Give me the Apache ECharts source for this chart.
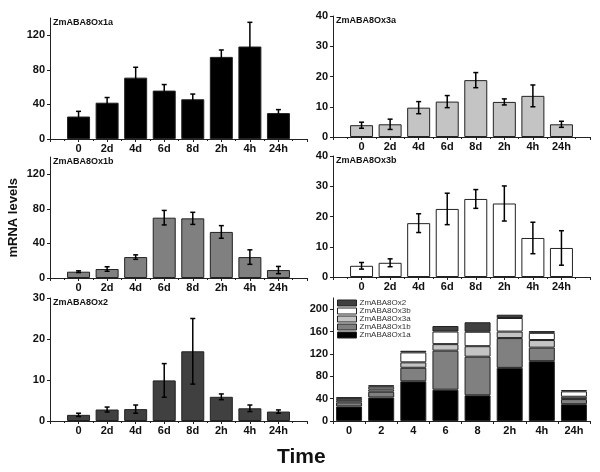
<!DOCTYPE html>
<html>
<head>
<meta charset="utf-8">
<script src="https://cdn.jsdelivr.net/npm/echarts@6/dist/echarts.min.js"></script>
<style>
html,body{margin:0;padding:0;background:#fff;}
#chart{width:600px;height:472px;}
</style>
</head>
<body>
<div id="chart"></div>
<script>
// ---- data ----
const timeLabels = ['0', '2d', '4d', '6d', '8d', '2h', '4h', '24h'];
const stackLabels = ['0', '2', '4', '6', '8', '2h', '4h', '24h'];
const seriesNames = ['ZmABA8Ox1a', 'ZmABA8Ox3a', 'ZmABA8Ox1b', 'ZmABA8Ox3b', 'ZmABA8Ox2'];

const ox1aMean = [26, 42, 71, 56, 46, 95, 107, 30];
const ox1aErr  = [6, 6, 12, 7, 6, 8, 28, 4];
const ox3aMean = [3.9, 4.2, 9.7, 11.7, 18.8, 11.6, 13.6, 4.2];
const ox3aErr  = [1.0, 1.7, 2.0, 2.0, 2.5, 1.0, 3.6, 1.0];
const ox1bMean = [7.3, 10.4, 24.2, 69.8, 69, 53.3, 24.2, 9.2];
const ox1bErr  = [1.0, 2.6, 2.6, 8.4, 7.0, 7.3, 8.4, 4.2];
const ox3bMean = [3.7, 4.7, 17.8, 22.5, 25.8, 24.3, 12.9, 9.6];
const ox3bErr  = [1.1, 1.3, 3.1, 5.2, 3.1, 5.8, 5.2, 5.7];
const ox2Mean  = [1.5, 2.8, 2.9, 9.9, 17.0, 5.9, 3.1, 2.3];
const ox2Err   = [0.4, 0.6, 1.0, 4.1, 8.0, 0.7, 0.8, 0.4];

const yTicks1a = [0, 40, 80, 120];
const yTicks3a = [0, 10, 20, 30, 40];
const yTicks1b = [0, 40, 80, 120];
const yTicks3b = [0, 10, 20, 30, 40];
const yTicks2  = [0, 10, 20, 30];
const yTicksStack = [0, 40, 80, 120, 160, 200];

// ---- layout / style ----
const FONT = "'Liberation Sans', Arial, sans-serif";
const colors = {
  ZmABA8Ox1a: '#000000',
  ZmABA8Ox1b: '#808080',
  ZmABA8Ox3a: '#c4c4c4',
  ZmABA8Ox3b: '#ffffff',
  ZmABA8Ox2: '#404040'
};

const panels = [
  { name: 'ZmABA8Ox1a', mean: ox1aMean, err: ox1aErr, max: 140, ticks: yTicks1a, rect: { left: 50, top: 18, width: 257, height: 121 } },
  { name: 'ZmABA8Ox3a', mean: ox3aMean, err: ox3aErr, max: 40, ticks: yTicks3a, rect: { left: 333, top: 16, width: 257, height: 121 } },
  { name: 'ZmABA8Ox1b', mean: ox1bMean, err: ox1bErr, max: 140, ticks: yTicks1b, rect: { left: 50, top: 157, width: 257, height: 121 } },
  { name: 'ZmABA8Ox3b', mean: ox3bMean, err: ox3bErr, max: 40, ticks: yTicks3b, rect: { left: 333, top: 156, width: 257, height: 121 } },
  { name: 'ZmABA8Ox2', mean: ox2Mean, err: ox2Err, max: 30, ticks: yTicks2, rect: { left: 50, top: 298, width: 257, height: 123 } }
];

const grid = [], xAxis = [], yAxis = [], series = [], title = [];

const axisLineStyle = { show: true, onZero: false, lineStyle: { color: '#222', width: 1 } };
const labelStyle = { color: '#111', fontFamily: FONT, fontWeight: 'bold', fontSize: 11 };

panels.forEach((p, i) => {
  grid.push(Object.assign({}, p.rect));
  xAxis.push({
    gridIndex: i, type: 'value', min: -1, max: 8, interval: 1,
    axisLine: axisLineStyle,
    axisTick: { show: true, length: 3, lineStyle: { color: '#222' } },
    minorTick: { show: true, splitNumber: 2, length: 2, lineStyle: { color: '#222' } },
    splitLine: { show: false },
    axisLabel: Object.assign({ margin: 4, formatter: v => (timeLabels[v] !== undefined ? timeLabels[v] : '') }, labelStyle)
  });
  yAxis.push({
    gridIndex: i, type: 'value', min: 0, max: p.max,
    axisLine: axisLineStyle,
    axisTick: { show: true, length: 3, lineStyle: { color: '#222' }, customValues: p.ticks },
    minorTick: { show: false },
    splitLine: { show: false },
    axisLabel: Object.assign({ margin: 5, customValues: p.ticks }, labelStyle)
  });
  series.push({
    type: 'bar', name: p.name, xAxisIndex: i, yAxisIndex: i,
    barWidth: 23,
    itemStyle: { color: colors[p.name], borderColor: '#222', borderWidth: 1 },
    data: p.mean.map((v, k) => [k, v]),
    silent: true
  });
  series.push({
    type: 'custom', xAxisIndex: i, yAxisIndex: i, silent: true, z: 5,
    data: p.mean.map((v, k) => [k, v, p.err[k]]),
    renderItem: (params, api) => {
      const x = api.value(0), m = api.value(1), e = api.value(2);
      const t = api.coord([x, m + e]);
      const b = api.coord([x, Math.max(0, m - e)]);
      const hw = 2.5;
      const st = { stroke: '#000', lineWidth: 1.5 };
      return {
        type: 'group', children: [
          { type: 'line', shape: { x1: t[0], y1: t[1], x2: b[0], y2: b[1] }, style: st },
          { type: 'line', shape: { x1: t[0] - hw, y1: t[1], x2: t[0] + hw, y2: t[1] }, style: st },
          { type: 'line', shape: { x1: b[0] - hw, y1: b[1], x2: b[0] + hw, y2: b[1] }, style: st }
        ]
      };
    }
  });
  title.push({
    text: p.name, left: p.rect.left + 3, top: p.rect.top,
    textStyle: { fontFamily: FONT, fontWeight: 'bold', fontSize: 9, color: '#111' },
    padding: 0
  });
});

// stacked panel
const gi = 5;
grid.push({ left: 333, top: 298, width: 257, height: 123 });
xAxis.push({
  gridIndex: gi, type: 'category', data: stackLabels, boundaryGap: true,
  axisLine: axisLineStyle,
  axisTick: { show: true, length: 3, lineStyle: { color: '#222' } },
  splitLine: { show: false },
  axisLabel: Object.assign({ margin: 4 }, labelStyle)
});
yAxis.push({
  gridIndex: gi, type: 'value', min: 0, max: 220,
  axisLine: axisLineStyle,
  axisTick: { show: true, length: 3, lineStyle: { color: '#222' }, customValues: yTicksStack },
  splitLine: { show: false },
  axisLabel: Object.assign({ margin: 5, customValues: yTicksStack }, labelStyle)
});
const stackOrder = [
  ['ZmABA8Ox1a', ox1aMean],
  ['ZmABA8Ox1b', ox1bMean],
  ['ZmABA8Ox3a', ox3aMean],
  ['ZmABA8Ox3b', ox3bMean],
  ['ZmABA8Ox2', ox2Mean]
];
stackOrder.forEach(([name, vals]) => {
  series.push({
    type: 'bar', name: name, xAxisIndex: gi, yAxisIndex: gi, stack: 'all',
    barWidth: 26,
    itemStyle: { color: colors[name], borderColor: '#222', borderWidth: 1 },
    data: vals,
    silent: true
  });
});

const chart = echarts.init(document.getElementById('chart'), null, { renderer: 'canvas' });
chart.setOption({
  backgroundColor: '#ffffff',
  animation: false,
  textStyle: { fontFamily: FONT },
  title: title,
  grid: grid,
  xAxis: xAxis,
  yAxis: yAxis,
  legend: {
    data: ['ZmABA8Ox2', 'ZmABA8Ox3b', 'ZmABA8Ox3a', 'ZmABA8Ox1b', 'ZmABA8Ox1a'],
    orient: 'vertical', left: 337, top: 299,
    itemWidth: 19, itemHeight: 6, itemGap: 0,
    icon: 'rect',
    padding: 0,
    selectedMode: false,
    itemStyle: { borderColor: '#222', borderWidth: 1 },
    textStyle: { fontFamily: FONT, fontSize: 8, color: '#333', lineHeight: 8, height: 8, padding: [0, 0, 0, -2] }
  },
  graphic: [
    {
      type: 'text', left: 7, top: 178, rotation: Math.PI / 2,
      style: { text: 'mRNA levels', fontFamily: FONT, fontWeight: 'bold', fontSize: 13, fill: '#111' }
    },
    {
      type: 'text', left: 277, top: 447,
      style: { text: 'Time', fontFamily: FONT, fontWeight: 'bold', fontSize: 21, fill: '#111' }
    }
  ],
  series: series
});
</script>
</body>
</html>
